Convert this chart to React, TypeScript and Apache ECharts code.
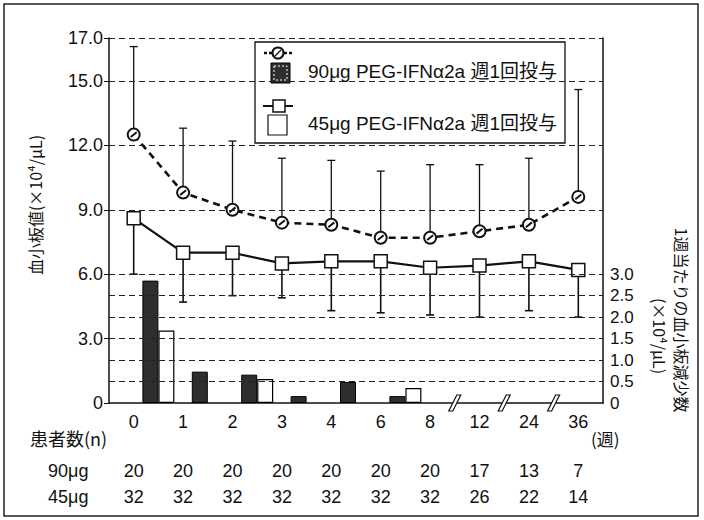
import React, { useEffect, useRef } from 'react';
import * as echarts from 'echarts';

// ---- data ----
const weeks = ['0', '1', '2', '3', '4', '6', '8', '12', '24', '36'];
const mean90 = [12.5, 9.8, 9.0, 8.4, 8.3, 7.7, 7.7, 8.0, 8.3, 9.6];
const upper90 = [16.6, 12.8, 12.2, 11.4, 11.3, 10.8, 11.1, 11.1, 11.4, 14.6];
const mean45 = [8.6, 7.0, 7.0, 6.5, 6.6, 6.6, 6.3, 6.4, 6.6, 6.2];
const lower45 = [6.0, 4.7, 5.0, 4.9, 4.3, 4.2, 4.1, 4.0, 4.3, 4.0];
const drop90 = [2.85, 0.73, 0.66, 0.16, 0.49, 0.16, 0, 0, 0, 0];
const drop45 = [1.69, 0, 0.56, 0, 0, 0.35, 0, 0, 0, 0];
const n90 = ['20', '20', '20', '20', '20', '20', '20', '17', '13', '7'];
const n45 = ['32', '32', '32', '32', '32', '32', '32', '26', '22', '14'];
const leftTicks = [0, 3, 6, 9, 12, 15, 17];
const rightTicks = [0, 0.5, 1, 1.5, 2, 2.5, 3];
const leftGridLines = [9, 12, 15, 17];
const rightGridLines = [0.5, 1, 1.5, 2, 2.5, 3];
const breakAfterWeeks = ['8', '12', '24'];

const NUM_FONT = "'Liberation Sans', 'Noto Sans CJK JP', sans-serif";
const CJK_FONT = "'Noto Sans CJK JP', 'Noto Sans', sans-serif";
const INK = '#111';

const fmtTick = (v: number) => (v === 0 ? '0' : v.toFixed(1));

const boundaries = Array.from({ length: weeks.length + 1 }, (_, i) => 'b' + i);

function buildOption() {
  const dashed = { type: [6, 4] as number[], color: '#222', width: 1.2 };
  return {
    animation: false,
    backgroundColor: '#fff',
    grid: { left: 109, right: 101, top: 38, bottom: 117 },
    xAxis: [
      {
        type: 'category',
        data: weeks,
        boundaryGap: true,
        position: 'bottom',
        axisLine: { lineStyle: { color: INK, width: 1.5 } },
        axisTick: { show: false },
        axisLabel: { interval: 0, fontFamily: NUM_FONT, fontSize: 18, color: INK, margin: 10 },
        splitLine: { show: false },
      },
      {
        type: 'category',
        data: boundaries,
        boundaryGap: false,
        show: false,
      },
      {
        type: 'category',
        data: n90,
        position: 'bottom',
        offset: 49,
        axisLine: { show: false },
        axisTick: { show: false },
        axisLabel: { interval: 0, fontFamily: NUM_FONT, fontSize: 18, color: INK, margin: 10 },
        splitLine: { show: false },
      },
      {
        type: 'category',
        data: n45,
        position: 'bottom',
        offset: 75,
        axisLine: { show: false },
        axisTick: { show: false },
        axisLabel: { interval: 0, fontFamily: NUM_FONT, fontSize: 18, color: INK, margin: 10 },
        splitLine: { show: false },
      },
    ],
    yAxis: [
      {
        type: 'value',
        min: 0,
        max: 17,
        interval: 1,
        position: 'left',
        axisLine: { show: true, lineStyle: { color: INK, width: 1.5 } },
        axisTick: { show: true, customValues: leftTicks, length: 5, lineStyle: { color: INK } },
        axisLabel: {
          customValues: leftTicks,
          formatter: (v: number) => (leftTicks.includes(v) ? fmtTick(v) : ''),
          fontFamily: NUM_FONT,
          fontSize: 18,
          color: INK,
          margin: 6,
        },
        splitLine: { show: false },
      },
      {
        type: 'value',
        min: 0,
        max: 8.5,
        interval: 0.5,
        position: 'right',
        axisLine: { show: true, lineStyle: { color: INK, width: 1.5 } },
        axisTick: { show: false },
        axisLabel: {
          formatter: (v: number) => (rightTicks.some((t) => Math.abs(t - v) < 1e-6) ? fmtTick(v) : ''),
          fontFamily: NUM_FONT,
          fontSize: 17,
          color: INK,
          margin: 7,
        },
        splitLine: { show: false },
      },
    ],
    series: [
      // grid lines
      {
        type: 'line',
        data: [],
        xAxisIndex: 0,
        yAxisIndex: 0,
        z: 0,
        silent: true,
        markLine: {
          silent: true,
          symbol: ['none', 'none'],
          label: { show: false },
          lineStyle: dashed,
          data: leftGridLines.map((v) => ({ yAxis: v })),
        },
      },
      {
        type: 'line',
        data: [],
        xAxisIndex: 0,
        yAxisIndex: 1,
        z: 0,
        silent: true,
        markLine: {
          silent: true,
          symbol: ['none', 'none'],
          label: { show: false },
          lineStyle: dashed,
          data: rightGridLines.map((v) => ({ yAxis: v })),
        },
      },
      // bars: platelet decrease per week
      {
        type: 'bar',
        name: '90',
        xAxisIndex: 1,
        yAxisIndex: 1,
        barWidth: 16,
        barGap: '0%',
        z: 2,
        data: [null, ...drop90.map((v) => (v > 0 ? v : null))],
        itemStyle: { color: '#2e2e2e', borderColor: '#000', borderWidth: 1 },
      },
      {
        type: 'bar',
        name: '45',
        xAxisIndex: 1,
        yAxisIndex: 1,
        barWidth: 16,
        barGap: '0%',
        z: 2,
        data: [null, ...drop45.map((v) => (v > 0 ? v : null))],
        itemStyle: { color: '#fff', borderColor: '#000', borderWidth: 1.2 },
      },
      // axis break marks
      {
        type: 'custom',
        xAxisIndex: 1,
        yAxisIndex: 0,
        z: 6,
        silent: true,
        data: breakAfterWeeks.map((w) => [weeks.indexOf(w) + 1, 0]),
        renderItem: (_p: any, api: any) => {
          const p = api.coord([api.value(0), api.value(1)]);
          return {
            type: 'polygon',
            shape: {
              points: [
                [p[0] - 6, p[1] + 8],
                [p[0] - 2, p[1] + 8],
                [p[0] + 6, p[1] - 8],
                [p[0] + 2, p[1] - 8],
              ],
            },
            style: { fill: '#fff', stroke: INK, lineWidth: 1.2 },
          };
        },
      },
      // error bars 90 (upward)
      {
        type: 'custom',
        xAxisIndex: 0,
        yAxisIndex: 0,
        z: 3,
        silent: true,
        data: weeks.map((_, i) => [i, mean90[i], upper90[i]]),
        encode: { x: 0, y: [1, 2] },
        renderItem: (_p: any, api: any) => {
          const a = api.coord([api.value(0), api.value(1)]);
          const b = api.coord([api.value(0), api.value(2)]);
          const style = { stroke: INK, lineWidth: 1.3 };
          return {
            type: 'group',
            children: [
              { type: 'line', shape: { x1: a[0], y1: a[1], x2: b[0], y2: b[1] }, style },
              { type: 'line', shape: { x1: b[0] - 4, y1: b[1], x2: b[0] + 4, y2: b[1] }, style },
            ],
          };
        },
      },
      // error bars 45 (downward)
      {
        type: 'custom',
        xAxisIndex: 0,
        yAxisIndex: 0,
        z: 3,
        silent: true,
        data: weeks.map((_, i) => [i, mean45[i], lower45[i]]),
        encode: { x: 0, y: [1, 2] },
        renderItem: (_p: any, api: any) => {
          const a = api.coord([api.value(0), api.value(1)]);
          const b = api.coord([api.value(0), api.value(2)]);
          const style = { stroke: INK, lineWidth: 1.6 };
          return {
            type: 'group',
            children: [
              { type: 'line', shape: { x1: a[0], y1: a[1], x2: b[0], y2: b[1] }, style },
              { type: 'line', shape: { x1: b[0] - 4, y1: b[1], x2: b[0] + 4, y2: b[1] }, style },
            ],
          };
        },
      },
      // 90 µg line
      {
        type: 'line',
        name: '90µg',
        xAxisIndex: 0,
        yAxisIndex: 0,
        z: 4,
        data: mean90,
        symbol: 'path://M10 0A10 10 0 1 1 10 20A10 10 0 1 1 10 0ZM5 14L15 6',
        symbolSize: 12,
        symbolKeepAspect: true,
        lineStyle: { type: [7, 5], width: 2.6, color: INK },
        itemStyle: { color: '#fff', borderColor: INK, borderWidth: 2 },
      },
      // 45 µg line
      {
        type: 'line',
        name: '45µg',
        xAxisIndex: 0,
        yAxisIndex: 0,
        z: 4,
        data: mean45,
        symbol: 'rect',
        symbolSize: 13,
        lineStyle: { type: 'solid', width: 2.2, color: INK },
        itemStyle: { color: '#fff', borderColor: INK, borderWidth: 1.5 },
      },
    ],
    graphic: [
      // outer frame
      {
        type: 'rect',
        shape: { x: 4, y: 4, width: 694, height: 512 },
        style: { fill: 'none', stroke: '#222', lineWidth: 1.5 },
        z: 0,
        silent: true,
      },
      // legend box
      {
        type: 'group',
        z: 50,
        children: [
          { type: 'rect', shape: { x: 255, y: 42, width: 310, height: 101 }, style: { fill: '#fff', stroke: INK, lineWidth: 1.3 } },
          { type: 'line', shape: { x1: 264, y1: 53, x2: 272, y2: 53 }, style: { stroke: INK, lineWidth: 2.4, lineDash: [3, 2] } },
          { type: 'line', shape: { x1: 284, y1: 53, x2: 292, y2: 53 }, style: { stroke: INK, lineWidth: 2.4, lineDash: [3, 2] } },
          { type: 'circle', shape: { cx: 278, cy: 53, r: 5.5 }, style: { fill: '#fff', stroke: INK, lineWidth: 2 } },
          { type: 'line', shape: { x1: 275, y1: 56, x2: 281, y2: 50 }, style: { stroke: INK, lineWidth: 1.3 } },
          { type: 'rect', shape: { x: 271, y: 63, width: 19, height: 20 }, style: { fill: '#2e2e2e', stroke: '#000', lineWidth: 1 } },
          { type: 'rect', shape: { x: 274, y: 66, width: 13, height: 14 }, style: { fill: 'none', stroke: '#fff', lineWidth: 1, lineDash: [2, 2] } },
          {
            type: 'text',
            x: 308,
            y: 71,
            style: { text: '90μg PEG-IFNα2a 週1回投与', fontFamily: NUM_FONT, fontSize: 19, fill: INK, verticalAlign: 'middle' },
          },
          { type: 'line', shape: { x1: 263, y1: 106, x2: 293, y2: 106 }, style: { stroke: INK, lineWidth: 2 } },
          { type: 'rect', shape: { x: 273, y: 100, width: 12, height: 12 }, style: { fill: '#fff', stroke: INK, lineWidth: 1.5 } },
          { type: 'rect', shape: { x: 268, y: 115, width: 19, height: 20 }, style: { fill: '#fff', stroke: INK, lineWidth: 1.2 } },
          {
            type: 'text',
            x: 308,
            y: 123,
            style: { text: '45μg PEG-IFNα2a 週1回投与', fontFamily: NUM_FONT, fontSize: 19, fill: INK, verticalAlign: 'middle' },
          },
        ],
      },
      // left axis name
      {
        type: 'text',
        x: 35,
        y: 205,
        rotation: Math.PI / 2,
        style: { text: '血小板値(×10⁴/μL)', fontFamily: CJK_FONT, fontSize: 16, fill: INK, align: 'center', verticalAlign: 'middle' },
      },
      // right axis name
      {
        type: 'text',
        x: 682,
        y: 320,
        rotation: -Math.PI / 2,
        style: { text: '1週当たりの血小板減少数', fontFamily: CJK_FONT, fontSize: 16, fill: INK, align: 'center', verticalAlign: 'middle' },
      },
      {
        type: 'text',
        x: 660,
        y: 336,
        rotation: -Math.PI / 2,
        style: { text: '(×10⁴/μL)', fontFamily: CJK_FONT, fontSize: 16, fill: INK, align: 'center', verticalAlign: 'middle' },
      },
      // table labels
      {
        type: 'text',
        x: 30,
        y: 438,
        style: { text: '患者数(n)', fontFamily: CJK_FONT, fontSize: 18, fill: INK, verticalAlign: 'middle' },
      },
      {
        type: 'text',
        x: 591,
        y: 438,
        style: { text: '(週)', fontFamily: CJK_FONT, fontSize: 17, fill: INK, verticalAlign: 'middle' },
      },
      {
        type: 'text',
        x: 48,
        y: 471,
        style: { text: '90μg', fontFamily: NUM_FONT, fontSize: 18, fill: INK, verticalAlign: 'middle' },
      },
      {
        type: 'text',
        x: 48,
        y: 497,
        style: { text: '45μg', fontFamily: NUM_FONT, fontSize: 18, fill: INK, verticalAlign: 'middle' },
      },
    ],
  };
}

export default function App() {
  const ref = useRef<HTMLDivElement>(null);
  useEffect(() => {
    document.body.style.margin = '0';
    const chart = echarts.init(ref.current as HTMLDivElement, null, { renderer: 'svg' });
    chart.setOption(buildOption() as any);
    return () => chart.dispose();
  }, []);
  return <div ref={ref} style={{ width: 704, height: 520, background: '#fff' }} />;
}
